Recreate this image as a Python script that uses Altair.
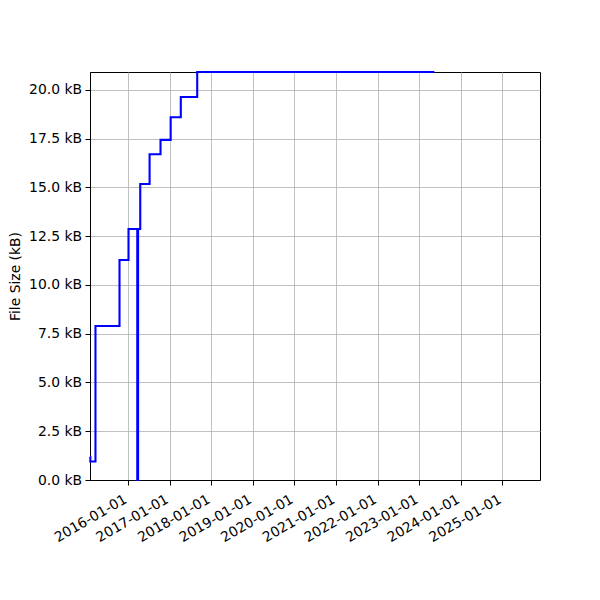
import altair as alt
import pandas as pd

dates = ["2015-02-03", "2015-02-06", "2015-03-23", "2015-10-20", "2016-01-07",
         "2016-03-24", "2016-03-31", "2016-04-19", "2016-07-10", "2016-10-14",
         "2017-01-11", "2017-04-10", "2017-09-01", "2023-05-15"]
sizes_kb = [1.19, 0.95, 7.9, 11.28, 12.87, 0.0, 12.87, 15.18, 16.7, 17.44,
            18.6, 19.64, 20.92, 20.92]
years = list(range(2016, 2026))
y_ticks = [0, 2.5, 5, 7.5, 10, 12.5, 15, 17.5, 20]

df = pd.DataFrame({"date": dates, "size": sizes_kb, "order": list(range(len(dates)))})

FONT = "DejaVu Sans"
FS = 13.9

chart = alt.Chart(df).mark_line(
    color="#0000ff", strokeWidth=2.1, interpolate="step-after"
).encode(
    x=alt.X("date:T",
            scale=alt.Scale(type="utc",
                            domain=[alt.DateTime(year=2015, month=2, date=3, utc=True),
                                    alt.DateTime(year=2025, month=11, date=27, utc=True)]),
            axis=alt.Axis(title=None,
                          values=[alt.DateTime(year=y, month=1, date=1, utc=True) for y in years],
                          labelExpr="utcFormat(datum.value, '%Y-%m-%d')",
                          labelAngle=-30, labelAlign="right", labelBaseline="top",
                          labelOffset=-6, labelPadding=7, tickSize=5,
                          labelFont=FONT, labelFontSize=FS, labelColor="black",
                          grid=True, gridColor="#b0b0b0", gridWidth=0.8,
                          domainColor="black", tickColor="black", labelOverlap=False)),
    y=alt.Y("size:Q",
            scale=alt.Scale(domain=[0, 20.92], nice=False, zero=True),
            axis=alt.Axis(title="File Size (kB)", values=y_ticks,
                          labelExpr="format(datum.value, '.1f') + ' kB'",
                          tickSize=5, labelPadding=3.5, titlePadding=6,
                          labelFont=FONT, labelFontSize=FS, labelColor="black",
                          titleFont=FONT, titleFontSize=FS, titleFontWeight="normal",
                          titleColor="black",
                          grid=True, gridColor="#b0b0b0", gridWidth=0.8,
                          domainColor="black", tickColor="black")),
    order="order:Q",
).properties(
    width=450, height=408,
    autosize=alt.AutoSizeParams(type="none"),
    padding={"left": 82, "top": 64, "right": 52, "bottom": 112},
).configure_view(stroke="black", strokeWidth=1)

chart.save("out.html", embed_options={"renderer": "svg", "actions": False})
